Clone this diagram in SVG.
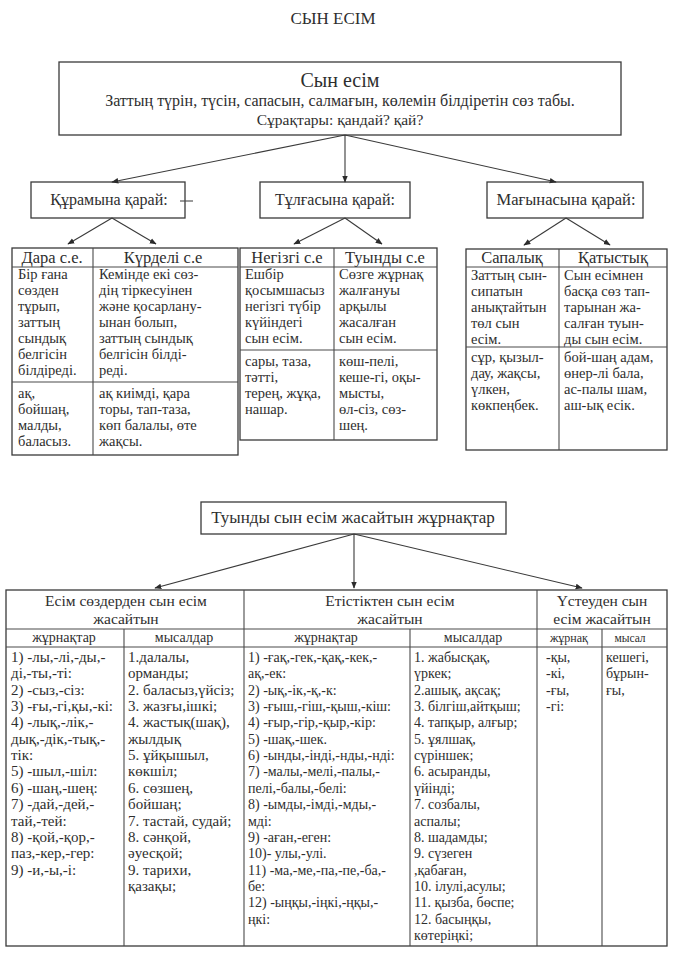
<svg xmlns="http://www.w3.org/2000/svg" width="674" height="960" viewBox="0 0 674 960">
<style>
text{font-family:"Liberation Serif","Times New Roman",serif;fill:#2e2e2e}
.t{font-size:14.5px}
.t2{font-size:14px}
.t1{font-size:15px}
.h{font-size:16.5px;text-anchor:middle}
.hh{font-size:15.5px;text-anchor:middle}
.c{text-anchor:middle}
.box{fill:none;stroke:#3a3a3a;stroke-width:1.3}
.ln{stroke:#4a4a4a;stroke-width:1.1;fill:none}
.ar{stroke:#3a3a3a;stroke-width:1.1;fill:none;marker-end:url(#ah)}
</style>
<defs>
<marker id="ah" viewBox="0 0 10 10" refX="9" refY="5" markerWidth="7" markerHeight="7" orient="auto" markerUnits="userSpaceOnUse">
<path d="M0,1 L10,5 L0,9 z" fill="#2b2b2b"/>
</marker>
</defs>
<rect width="674" height="960" fill="#ffffff"/>
<text x="333" y="24" class="c" style="font-size:17px">СЫН ЕСІМ</text>

<g id="main">
<rect class="box" x="59" y="62" width="562" height="73"/>
<text x="340" y="87" class="c" style="font-size:20px">Сын есім</text>
<text x="340" y="106" class="c" style="font-size:16px">Заттың түрін, түсін, сапасын, салмағын, көлемін  білдіретін сөз табы.</text>
<text x="340" y="125" class="c" style="font-size:15.5px">Сұрақтары: қандай? қай?</text>
</g>

<g id="cat1">
<rect class="box" x="31" y="182" width="154" height="36"/>
<text x="109" y="205" class="c" style="font-size:16px">Құрамына қарай:</text>
<line class="ln" x1="180" y1="201" x2="193" y2="201"/>
</g>
<g id="cat2">
<rect class="box" x="260" y="182" width="150" height="36"/>
<text x="335" y="205" class="c" style="font-size:16px">Тұлғасына қарай:</text>
</g>
<g id="cat3">
<rect class="box" x="487" y="182" width="156" height="36"/>
<text x="566" y="205" class="c" style="font-size:16.5px">Мағынасына қарай:</text>
</g>

<g id="connectors">
<line class="ar" x1="345" y1="135" x2="112" y2="182"/>
<line class="ar" x1="345" y1="135" x2="345" y2="182"/>
<line class="ar" x1="345" y1="135" x2="556" y2="182"/>
<line class="ar" x1="112" y1="218" x2="68" y2="244"/>
<line class="ar" x1="112" y1="218" x2="156" y2="244"/>
<line class="ar" x1="345" y1="218" x2="294" y2="244"/>
<line class="ar" x1="345" y1="218" x2="382" y2="244"/>
<line class="ar" x1="566" y1="218" x2="524" y2="245"/>
<line class="ar" x1="566" y1="218" x2="610" y2="245"/>
<line class="ar" x1="354" y1="534" x2="155" y2="588"/>
<line class="ar" x1="354" y1="534" x2="354" y2="588"/>
<line class="ar" x1="354" y1="534" x2="582" y2="588"/>
</g>

<g id="table-kuramy">
<rect class="box" x="12" y="248" width="226" height="207"/>
<line class="ln" x1="93" y1="248" x2="93" y2="455"/>
<line class="ln" x1="12" y1="267" x2="238" y2="267"/>
<line class="ln" x1="12" y1="382" x2="238" y2="382"/>
<text x="52" y="263" class="h">Дара с.е.</text>
<text x="163" y="263" class="h">Күрделі с.е</text>
<g class="t">
<text x="18" y="279">Бір ғана</text>
<text x="18" y="295">сөзден</text>
<text x="18" y="311">тұрып,</text>
<text x="18" y="327">заттың</text>
<text x="18" y="343">сындық</text>
<text x="18" y="359">белгісін</text>
<text x="18" y="375">білдіреді.</text>
<text x="18" y="398">ақ,</text>
<text x="18" y="414">бойшаң,</text>
<text x="18" y="430">малды,</text>
<text x="18" y="446">баласыз.</text>
<text x="99" y="279">Кемінде екі сөз-</text>
<text x="99" y="295">дің тіркесуінен</text>
<text x="99" y="311">және қосарлану-</text>
<text x="99" y="327">ынан болып,</text>
<text x="99" y="343">заттың сындық</text>
<text x="99" y="359">белгісін білді-</text>
<text x="99" y="375">реді.</text>
<text x="99" y="398">ақ киімді, қара</text>
<text x="99" y="414">торы, тап-таза,</text>
<text x="99" y="430">көп балалы, өте</text>
<text x="99" y="446">жақсы.</text>
</g>
</g>

<g id="table-tulga">
<rect class="box" x="240" y="248" width="197" height="192"/>
<line class="ln" x1="334" y1="248" x2="334" y2="440"/>
<line class="ln" x1="240" y1="267" x2="437" y2="267"/>
<line class="ln" x1="240" y1="350" x2="437" y2="350"/>
<text x="287" y="263" class="h">Негізгі с.е</text>
<text x="385" y="263" class="h">Туынды с.е</text>
<g class="t">
<text x="245" y="279">Ешбір</text>
<text x="245" y="295">қосымшасыз</text>
<text x="245" y="311">негізгі түбір</text>
<text x="245" y="327">күйіндегі</text>
<text x="245" y="343">сын есім.</text>
<text x="245" y="366">сары, таза,</text>
<text x="245" y="382">тәтті,</text>
<text x="245" y="398">терең, жұқа,</text>
<text x="245" y="414">нашар.</text>
<text x="339" y="279">Сөзге жұрнақ</text>
<text x="339" y="295">жалғануы</text>
<text x="339" y="311">арқылы</text>
<text x="339" y="327">жасалған</text>
<text x="339" y="343">сын есім.</text>
<text x="339" y="366">көш-пелі,</text>
<text x="339" y="382">кеше-гі, оқы-</text>
<text x="339" y="398">мысты,</text>
<text x="339" y="414">өл-сіз, сөз-</text>
<text x="339" y="430">шең.</text>
</g>
</g>

<g id="table-magyna">
<rect class="box" x="466" y="249" width="201" height="201"/>
<line class="ln" x1="559" y1="249" x2="559" y2="450"/>
<line class="ln" x1="466" y1="267" x2="667" y2="267"/>
<line class="ln" x1="466" y1="347" x2="667" y2="347"/>
<text x="512" y="263" class="h">Сапалық</text>
<text x="613" y="263" class="h">Қатыстық</text>
<g class="t">
<text x="471" y="280">Заттың сын-</text>
<text x="471" y="296">сипатын</text>
<text x="471" y="312">анықтайтын</text>
<text x="471" y="328">төл сын</text>
<text x="471" y="344">есім.</text>
<text x="471" y="362">сұр, қызыл-</text>
<text x="471" y="378">дау, жақсы,</text>
<text x="471" y="394">үлкен,</text>
<text x="471" y="410">көкпеңбек.</text>
<text x="564" y="280">Сын есімнен</text>
<text x="564" y="296">басқа сөз тап-</text>
<text x="564" y="312">тарынан жа-</text>
<text x="564" y="328">салған туын-</text>
<text x="564" y="344">ды сын есім.</text>
<text x="564" y="362">бой-шаң адам,</text>
<text x="564" y="378">өнер-лі бала,</text>
<text x="564" y="394">ас-палы шам,</text>
<text x="564" y="410">аш-ық есік.</text>
</g>
</g>

<g id="suffix-box">
<rect class="box" x="201" y="502" width="305" height="32"/>
<text x="353" y="523" class="c" style="font-size:17px">Туынды сын есім жасайтын жұрнақтар</text>
</g>

<g id="suffix-table">
<rect class="box" x="6" y="590" width="661" height="356"/>
<line class="ln" x1="244" y1="590" x2="244" y2="946"/>
<line class="ln" x1="537" y1="590" x2="537" y2="946"/>
<line class="ln" x1="124" y1="629" x2="124" y2="946"/>
<line class="ln" x1="410" y1="629" x2="410" y2="946"/>
<line class="ln" x1="602" y1="629" x2="602" y2="946"/>
<line class="ln" x1="6" y1="629" x2="667" y2="629"/>
<line class="ln" x1="6" y1="647" x2="667" y2="647"/>
<g class="hh">
<text x="126" y="606">Есім сөздерден сын есім</text>
<text x="126" y="624">жасайтын</text>
<text x="390" y="606">Етістіктен сын есім</text>
<text x="390" y="624">жасайтын</text>
<text x="602" y="606">Үстеуден сын</text>
<text x="602" y="624">есім жасайтын</text>
</g>
<g class="c" style="font-size:14px">
<text x="64" y="642">жұрнақтар</text>
<text x="184" y="642">мысалдар</text>
<text x="326" y="642">жұрнақтар</text>
<text x="473" y="642">мысалдар</text>
<text x="569" y="642" style="font-size:12px">жұрнақ</text>
<text x="630" y="642" style="font-size:11.5px">мысал</text>
</g>
<g class="t1">
<text x="11" y="662">1) -лы,-лі,-ды,-</text>
<text x="11" y="678">ді,-ты,-ті:</text>
<text x="11" y="695">2) -сыз,-сіз:</text>
<text x="11" y="711">3) -ғы,-гі,қы,-кі:</text>
<text x="11" y="727">4) -лық,-лік,-</text>
<text x="11" y="744">дық,-дік,-тық,-</text>
<text x="11" y="760">тік:</text>
<text x="11" y="776">5) -шыл,-шіл:</text>
<text x="11" y="793">6) -шаң,-шең:</text>
<text x="11" y="809">7) -дай,-дей,-</text>
<text x="11" y="826">тай,-тей:</text>
<text x="11" y="842">8) -қой,-қор,-</text>
<text x="11" y="858">паз,-кер,-гер:</text>
<text x="11" y="875">9) -и,-ы,-і:</text>

<text x="128" y="662">1.далалы,</text>
<text x="128" y="678">орманды;</text>
<text x="128" y="695">2. баласыз,үйсіз;</text>
<text x="128" y="711">3. жазғы,ішкі;</text>
<text x="128" y="727">4. жастық(шақ),</text>
<text x="128" y="744">жылдық</text>
<text x="128" y="760">5. ұйқышыл,</text>
<text x="128" y="776">көкшіл;</text>
<text x="128" y="793">6. сөзшең,</text>
<text x="128" y="809">бойшаң;</text>
<text x="128" y="826">7. тастай, судай;</text>
<text x="128" y="842">8. сәнқой,</text>
<text x="128" y="858">әуесқой;</text>
<text x="128" y="875">9. тарихи,</text>
<text x="128" y="891">қазақы;</text>
</g>
<g class="t2">
<text x="248" y="662">1) -ғақ,-гек,-қақ,-кек,-</text>
<text x="248" y="678">ақ,-ек:</text>
<text x="248" y="695">2) -ық,-ік,-қ,-к:</text>
<text x="248" y="711">3) -ғыш,-гіш,-қыш,-кіш:</text>
<text x="248" y="727">4) -ғыр,-гір,-қыр,-кір:</text>
<text x="248" y="744">5) -шақ,-шек.</text>
<text x="248" y="760">6) -ынды,-інді,-нды,-нді:</text>
<text x="248" y="776">7) -малы,-мелі,-палы,-</text>
<text x="248" y="793">пелі,-балы,-белі:</text>
<text x="248" y="809">8) -ымды,-імді,-мды,-</text>
<text x="248" y="826">мді:</text>
<text x="248" y="842">9) -аған,-еген:</text>
<text x="248" y="858">10)- улы,-улі.</text>
<text x="248" y="875">11) -ма,-ме,-па,-пе,-ба,-</text>
<text x="248" y="891">бе:</text>
<text x="248" y="907">12) -ыңқы,-іңкі,-ңқы,-</text>
<text x="248" y="924">ңкі:</text>

<text x="414" y="662">1. жабысқақ,</text>
<text x="414" y="678">үркек;</text>
<text x="414" y="695">2.ашық, ақсақ;</text>
<text x="414" y="711">3. білгіш,айтқыш;</text>
<text x="414" y="727">4. тапқыр, алғыр;</text>
<text x="414" y="744">5. ұялшақ,</text>
<text x="414" y="760">сүріншек;</text>
<text x="414" y="776">6. асыранды,</text>
<text x="414" y="793">үйінді;</text>
<text x="414" y="809">7. созбалы,</text>
<text x="414" y="826">аспалы;</text>
<text x="414" y="842">8. шадамды;</text>
<text x="414" y="858">9. сүзеген</text>
<text x="414" y="875">,қабаған,</text>
<text x="414" y="891">10. ілулі,асулы;</text>
<text x="414" y="907">11. қызба, бөспе;</text>
<text x="414" y="924">12. басыңқы,</text>
<text x="414" y="940">көтеріңкі;</text>

<text x="546" y="662">-қы,</text>
<text x="546" y="678">-кі,</text>
<text x="546" y="695">-ғы,</text>
<text x="546" y="711">-гі:</text>
<text x="606" y="662">кешегі,</text>
<text x="606" y="678">бұрын-</text>
<text x="606" y="695">ғы,</text>
</g>
</g>
</svg>
